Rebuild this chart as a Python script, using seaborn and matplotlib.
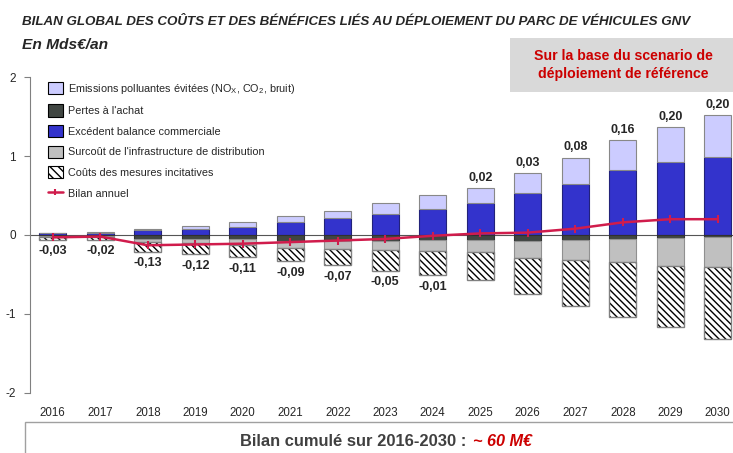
import numpy as np
import pandas as pd
import matplotlib
matplotlib.use("Agg")
import matplotlib.pyplot as plt
from matplotlib.patches import Patch, Rectangle
from matplotlib.lines import Line2D
import seaborn as sns

# ---------------- data ----------------
years = ["2016", "2017", "2018", "2019", "2020", "2021", "2022", "2023",
         "2024", "2025", "2026", "2027", "2028", "2029", "2030"]
emissions = [0.01, 0.01, 0.02, 0.05, 0.07, 0.08, 0.10, 0.13, 0.17, 0.19, 0.25, 0.33, 0.38, 0.45, 0.53]
excedent = [0.02, 0.03, 0.06, 0.07, 0.10, 0.16, 0.21, 0.27, 0.33, 0.40, 0.53, 0.65, 0.82, 0.92, 0.99]
pertes = [-0.01, -0.01, -0.05, -0.05, -0.05, -0.08, -0.07, -0.07, -0.06, -0.06, -0.07, -0.06, -0.05, -0.04, -0.02]
surcout = [-0.02, -0.02, -0.04, -0.05, -0.08, -0.09, -0.11, -0.12, -0.14, -0.16, -0.22, -0.26, -0.29, -0.35, -0.39]
mesures = [-0.03, -0.03, -0.12, -0.14, -0.15, -0.16, -0.20, -0.26, -0.31, -0.35, -0.46, -0.58, -0.70, -0.78, -0.91]
bilan = [-0.03, -0.02, -0.13, -0.12, -0.11, -0.09, -0.07, -0.05, -0.01, 0.02, 0.03, 0.08, 0.16, 0.20, 0.20]

legend_labels = [
    "Emissions polluantes évitées (NO$_\\mathregular{X}$, CO$_\\mathregular{2}$, bruit)",
    "Pertes à l'achat",
    "Excédent balance commerciale",
    "Surcoût de l'infrastructure de distribution",
    "Coûts des mesures incitatives",
    "Bilan annuel",
]
title = "BILAN GLOBAL DES COÛTS ET DES BÉNÉFICES LIÉS AU DÉPLOIEMENT DU PARC DE VÉHICULES GNV"
subtitle = "En Mds€/an"
box_text = "Sur la base du scenario de\ndéploiement de référence"
bottom_text = "Bilan cumulé sur 2016-2030 :"
bottom_value = "~ 60 M€"

# ---------------- style ----------------
sns.set_style("white")
plt.rcParams["font.family"] = ["Liberation Sans", "DejaVu Sans"]
plt.rcParams["hatch.linewidth"] = 1.0
plt.rcParams["hatch.color"] = "black"

C_LIGHT = "#ccccff"
C_BLUE = "#3333cc"
C_DARK = "#404642"
C_GRAY = "#c0c0c0"
C_RED = "#d01c4c"

fig = plt.figure(figsize=(7.33, 4.53), dpi=100)
ax = fig.add_axes([0.0409, 0.1325, 0.9591, 0.6975])

df = pd.DataFrame({"year": years, "emissions": emissions, "excedent": excedent,
                   "pertes": pertes, "surcout": surcout, "mesures": mesures, "bilan": bilan})

W = 0.57
pos_bottom = np.zeros(len(years))
neg_bottom = np.zeros(len(years))

# positive stacks
sns.barplot(data=df, x="year", y="excedent", ax=ax, width=W, color=C_BLUE,
            edgecolor="#22227a", linewidth=0.8, saturation=1, bottom=pos_bottom, zorder=2)
pos_bottom = pos_bottom + df["excedent"].values
sns.barplot(data=df, x="year", y="emissions", ax=ax, width=W, color=C_LIGHT,
            edgecolor="#888888", linewidth=0.8, saturation=1, bottom=pos_bottom, zorder=2)
pos_top = pos_bottom + df["emissions"].values

# negative stacks
sns.barplot(data=df, x="year", y="pertes", ax=ax, width=W, color=C_DARK,
            edgecolor="#303030", linewidth=0.8, saturation=1, bottom=neg_bottom, zorder=2)
neg_bottom = neg_bottom + df["pertes"].values
sns.barplot(data=df, x="year", y="surcout", ax=ax, width=W, color=C_GRAY,
            edgecolor="#909090", linewidth=0.8, saturation=1, bottom=neg_bottom, zorder=2)
neg_bottom = neg_bottom + df["surcout"].values
sns.barplot(data=df, x="year", y="mesures", ax=ax, width=W, color="white",
            edgecolor="black", linewidth=0, hatch="\\\\\\\\\\", saturation=1,
            bottom=neg_bottom, zorder=2)
sns.barplot(data=df, x="year", y="mesures", ax=ax, width=W, color="#808080",
            facecolor="none", edgecolor="#808080", linewidth=1.0, saturation=1,
            bottom=neg_bottom, zorder=3)
neg_total = neg_bottom + df["mesures"].values

ax.axhline(0, color="#555555", lw=0.8, zorder=1.5)

# net line
xpos = np.arange(len(years))
sns.lineplot(x=xpos, y=df["bilan"].values, ax=ax, color=C_RED, lw=1.8,
             marker="|", markersize=6, markeredgewidth=1.5, markeredgecolor=C_RED, zorder=5)

# value labels
for i, v in enumerate(bilan):
    s = f"{v:.2f}".replace(".", ",")
    if v < 0:
        ax.annotate(s, (i, neg_total[i]), xytext=(0, -4), textcoords="offset points",
                    ha="center", va="top", fontsize=9, fontweight="bold", zorder=6)
    else:
        ax.annotate(s, (i, pos_top[i]), xytext=(0, 3), textcoords="offset points",
                    ha="center", va="bottom", fontsize=9, fontweight="bold", zorder=6)

# axes styling
ax.set_xlim(-0.48, 14.32)
ax.set_ylim(-2, 2)
ax.set_yticks([-2, -1, 0, 1, 2])
ax.set_yticklabels(["-2", "-1", "0", "1", "2"])
ax.set_xlabel("")
ax.set_ylabel("")
for sp in ["top", "right", "bottom"]:
    ax.spines[sp].set_visible(False)
ax.spines["left"].set_color("#808080")
ax.spines["left"].set_linewidth(0.8)
ax.tick_params(axis="y", direction="out", length=4, width=0.8, color="#808080",
               labelsize=8.5, pad=6, left=True)
ax.tick_params(axis="x", length=0, labelsize=8.3, pad=10)

# legend
handles = [
    Patch(facecolor=C_LIGHT, edgecolor="black", linewidth=0.8),
    Patch(facecolor=C_DARK, edgecolor="black", linewidth=0.8),
    Patch(facecolor=C_BLUE, edgecolor="black", linewidth=0.8),
    Patch(facecolor=C_GRAY, edgecolor="black", linewidth=0.8),
    Patch(facecolor="white", edgecolor="black", linewidth=0.8, hatch="\\\\\\\\"),
    Line2D([], [], color=C_RED, lw=1.8, marker="|", markersize=5, markeredgewidth=1.5),
]
ax.legend(handles, legend_labels, loc="upper left", bbox_to_anchor=(48 / 733, 1 - 82 / 453),
          bbox_transform=fig.transFigure, frameon=False, fontsize=7.8,
          handlelength=1.35, handleheight=1.35, labelspacing=0.78, handletextpad=0.5,
          borderaxespad=0, borderpad=0)

# titles and boxes
t_title = fig.text(22 / 733, 1 - 22 / 453, title, fontsize=11, fontweight="bold",
                   fontstyle="italic", va="center", ha="left")
t_sub = fig.text(22 / 733, 1 - 45 / 453, subtitle, fontsize=11, fontweight="bold",
                 fontstyle="italic", va="center", ha="left")

fig.patches.append(Rectangle((510 / 733, 1 - 92 / 453), 1 - 510 / 733, 54 / 453,
                             transform=fig.transFigure, facecolor="#d9d9d9",
                             edgecolor="none", zorder=0))
t_box = fig.text(623 / 733, 1 - 65 / 453, box_text, color="#cc0000", fontsize=11.5,
                 fontweight="bold", ha="center", va="center", linespacing=1.45)

fig.patches.append(Rectangle((25 / 733, -0.05), 1.0, 0.05 + 31 / 453,
                             transform=fig.transFigure, facecolor="white",
                             edgecolor="#a0a0a0", linewidth=1.0, zorder=0))
t_b1 = fig.text(466 / 733, 1 - 442 / 453, bottom_text, color="#404040", fontsize=13,
                fontweight="bold", ha="right", va="center")
t_b2 = fig.text(473 / 733, 1 - 442 / 453, bottom_value, color="#cc0000", fontsize=13,
                fontweight="bold", fontstyle="italic", ha="left", va="center")

# fit text widths to the reference (condensed font not available)
fig.canvas.draw()
renderer = fig.canvas.get_renderer()
for t, target in [(t_title, 668), (t_sub, 86), (t_box, 180), (t_b1, 227), (t_b2, 59)]:
    w = t.get_window_extent(renderer).width
    t.set_fontsize(t.get_fontsize() * target / w)

fig.savefig("out.png", dpi=100)
